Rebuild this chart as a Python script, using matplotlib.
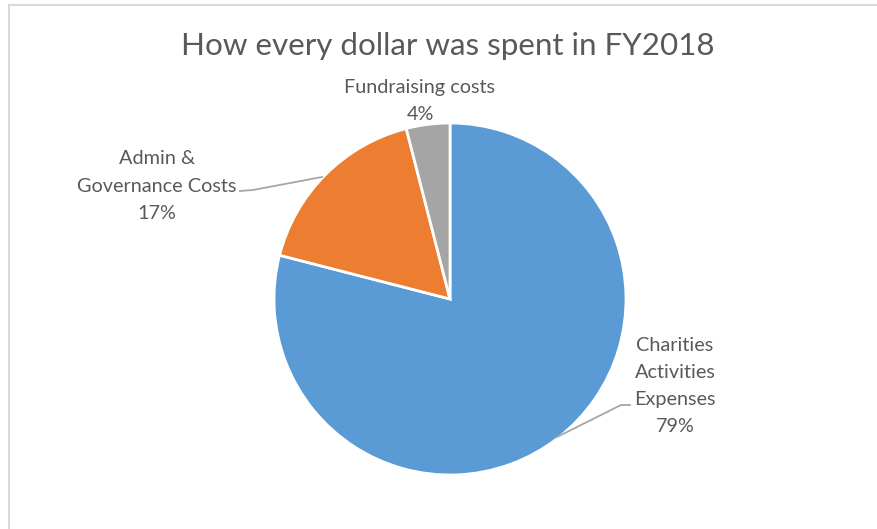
import matplotlib
matplotlib.use("Agg")
import matplotlib.pyplot as plt
from matplotlib.patches import Rectangle

categories = ["Charities\nActivities\nExpenses", "Admin &\nGovernance Costs", "Fundraising costs"]
values = [79, 17, 4]
colors = ["#5B9BD5", "#ED7D31", "#A5A5A5"]
title = "How every dollar was spent in FY2018"

W, H = 877, 529
plt.rcParams['font.family'] = ['Lato', 'DejaVu Sans']
fig = plt.figure(figsize=(W / 100, H / 100), dpi=100)
ax = fig.add_axes([0, 0, 1, 1])

def py(y):
    return H - y

cx, cy, r = 450, py(299), 176
ax.pie(values, colors=colors, startangle=90, counterclock=False,
       center=(cx, cy), radius=r,
       wedgeprops=dict(edgecolor="white", linewidth=2))
ax.set_xlim(0, W)
ax.set_ylim(0, H)
ax.set_aspect("equal")
ax.axis("off")

# chart frame (right and bottom edges fall outside the image)
fig.patches.append(Rectangle((9 / W, -20 / H), (W - 9 + 20) / W, (H - 5 + 20) / H,
                             transform=fig.transFigure, fill=False,
                             edgecolor="#D9D9D9", linewidth=1.5))

txt = "#595959"
ax.text(448, py(46), title, ha="center", va="center", fontsize=22.6, color=txt)

lab_fs = 14.3
ls = 1.72
# Charities label
ax.text(675, py(386), f"{categories[0]}\n{values[0]}%", ha="center", va="center",
        fontsize=lab_fs, color=txt, linespacing=ls)
ax.plot([630, 621, 557], [py(405), py(405), py(437)], color="#A6A6A6", lw=1.3)
# Admin label
ax.text(157, py(186), f"{categories[1]}\n{values[1]}%", ha="center", va="center",
        fontsize=lab_fs, color=txt, linespacing=ls)
ax.plot([240, 253, 322], [py(191), py(190), py(177)], color="#A6A6A6", lw=1.3)
# Fundraising label
ax.text(420, py(101), f"{categories[2]}\n{values[2]}%", ha="center", va="center",
        fontsize=lab_fs, color=txt, linespacing=ls)

fig.savefig("out.png", dpi=100)
